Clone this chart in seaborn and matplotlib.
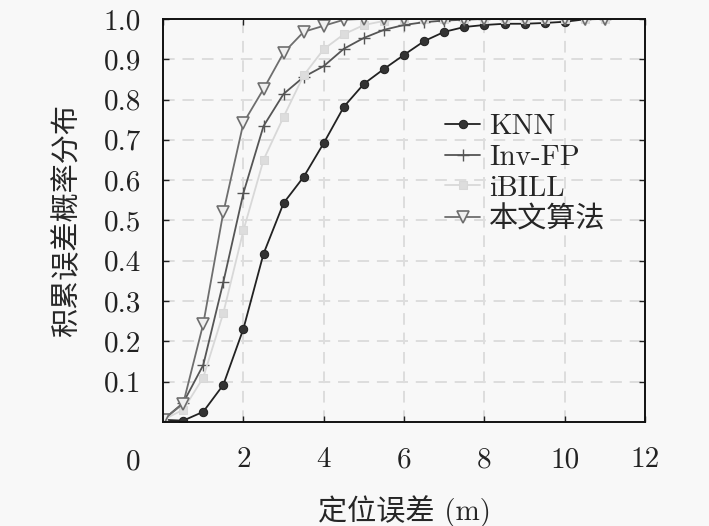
import matplotlib
matplotlib.use("Agg")
import matplotlib.pyplot as plt
import seaborn as sns
import pandas as pd

# datos
x_vals = [0, 0.5, 1, 1.5, 2, 2.5, 3, 3.5, 4, 4.5, 5, 5.5, 6, 6.5, 7, 7.5,
          8, 8.5, 9, 9.5, 10, 10.5, 11]
knn = [0.005, 0.003, 0.025, 0.092, 0.231, 0.417, 0.543, 0.608, 0.692, 0.782,
       0.839, 0.876, 0.911, 0.945, 0.968, 0.980, 0.985, 0.988, 0.988, 0.990,
       0.993, 0.999, 1.0]
inv_fp = [0.005, 0.047, 0.141, 0.347, 0.568, 0.734, 0.814, 0.856, 0.883, 0.926,
          0.953, 0.973, 0.985, 0.992, 0.996, 0.998, 1.0, 1.0, 1.0, 1.0,
          1.0, 1.0, 1.0]
ibill = [0.005, 0.030, 0.110, 0.270, 0.475, 0.650, 0.757, 0.860, 0.925, 0.962,
         0.985, 0.995, 1.0, 1.0, 1.0, 1.0, 1.0, 1.0, 1.0, 1.0,
         1.0, 1.0, 1.0]
ours = [0.005, 0.045, 0.243, 0.520, 0.742, 0.826, 0.916, 0.968, 0.983, 0.998,
        1.0, 1.0, 1.0, 1.0, 1.0, 1.0, 1.0, 1.0, 1.0, 1.0,
        1.0, 1.0, 1.0]
series_names = ["KNN", "Inv-FP", "iBILL", "本文算法"]
y_ticks = [0.1, 0.2, 0.3, 0.4, 0.5, 0.6, 0.7, 0.8, 0.9, 1.0]
x_ticks = [0, 2, 4, 6, 8, 10, 12]

sns.set_theme(style="ticks")
plt.rcParams['font.family'] = ['cmr10', 'Noto Sans CJK SC', 'DejaVu Sans']
plt.rcParams['axes.formatter.use_mathtext'] = True

bg = '#f8f8f8'
fig = plt.figure(figsize=(7.09, 5.26), dpi=100, facecolor=bg)
ax = fig.add_axes([0.23, 0.198, 0.68, 0.766])
ax.set_facecolor(bg)

estilos = {
    "KNN": dict(color='#222222', marker='o', markersize=6, mfc='#333333', mec='#222222'),
    "Inv-FP": dict(color='#555555', marker='+', markersize=9, mew=1.0, mec='#555555'),
    "iBILL": dict(color='#d8d8d8', marker='s', markersize=6, mfc='#dddddd', mec='#d8d8d8'),
    "本文算法": dict(color='#6e6e6e', marker='v', markersize=8, mfc='#f0f0f0', mec='#6e6e6e', mew=1.2),
}
valores = [knn, inv_fp, ibill, ours]
for name, vals in zip(series_names, valores):
    df = pd.DataFrame({'x': x_vals, 'y': vals})
    sns.lineplot(data=df, x='x', y='y', ax=ax, label=name, linewidth=1.3,
                 **estilos[name])

ax.set_xlim(0, 12)
ax.set_ylim(0, 1.0)
ax.set_xticks(x_ticks)
ax.set_xticklabels([''] + [str(t) for t in x_ticks[1:]])
ax.set_yticks(y_ticks)
ax.set_yticklabels([f'{t:.1f}' for t in y_ticks])
ax.tick_params(direction='in', length=4, width=1, top=True, right=True,
               labelsize=21, colors='#222222')
ax.tick_params(axis='x', pad=18)
ax.tick_params(axis='y', pad=16)
ax.grid(True, color='#dddddd', linewidth=1.4, linestyle=(0, (6, 4)))
for s in ax.spines.values():
    s.set_color('#111111')
    s.set_linewidth(1.4)

# el "0" del origen, a la altura de las etiquetas del eje x
ax.text(-0.75, -0.067, '0', fontsize=21, ha='center', va='top', clip_on=False,
        color='#222222')
ax.set_xlabel('定位误差 (m)', fontsize=21, labelpad=16)
ax.set_ylabel('积累误差概率分布', fontsize=21, labelpad=16)

leg = ax.legend(loc='upper left', bbox_to_anchor=(0.585, 0.765), frameon=False,
                fontsize=21, handlelength=1.2, handletextpad=0.3,
                labelspacing=0.15, borderaxespad=0, borderpad=0)

fig.savefig('out.png', dpi=100, facecolor=bg)
